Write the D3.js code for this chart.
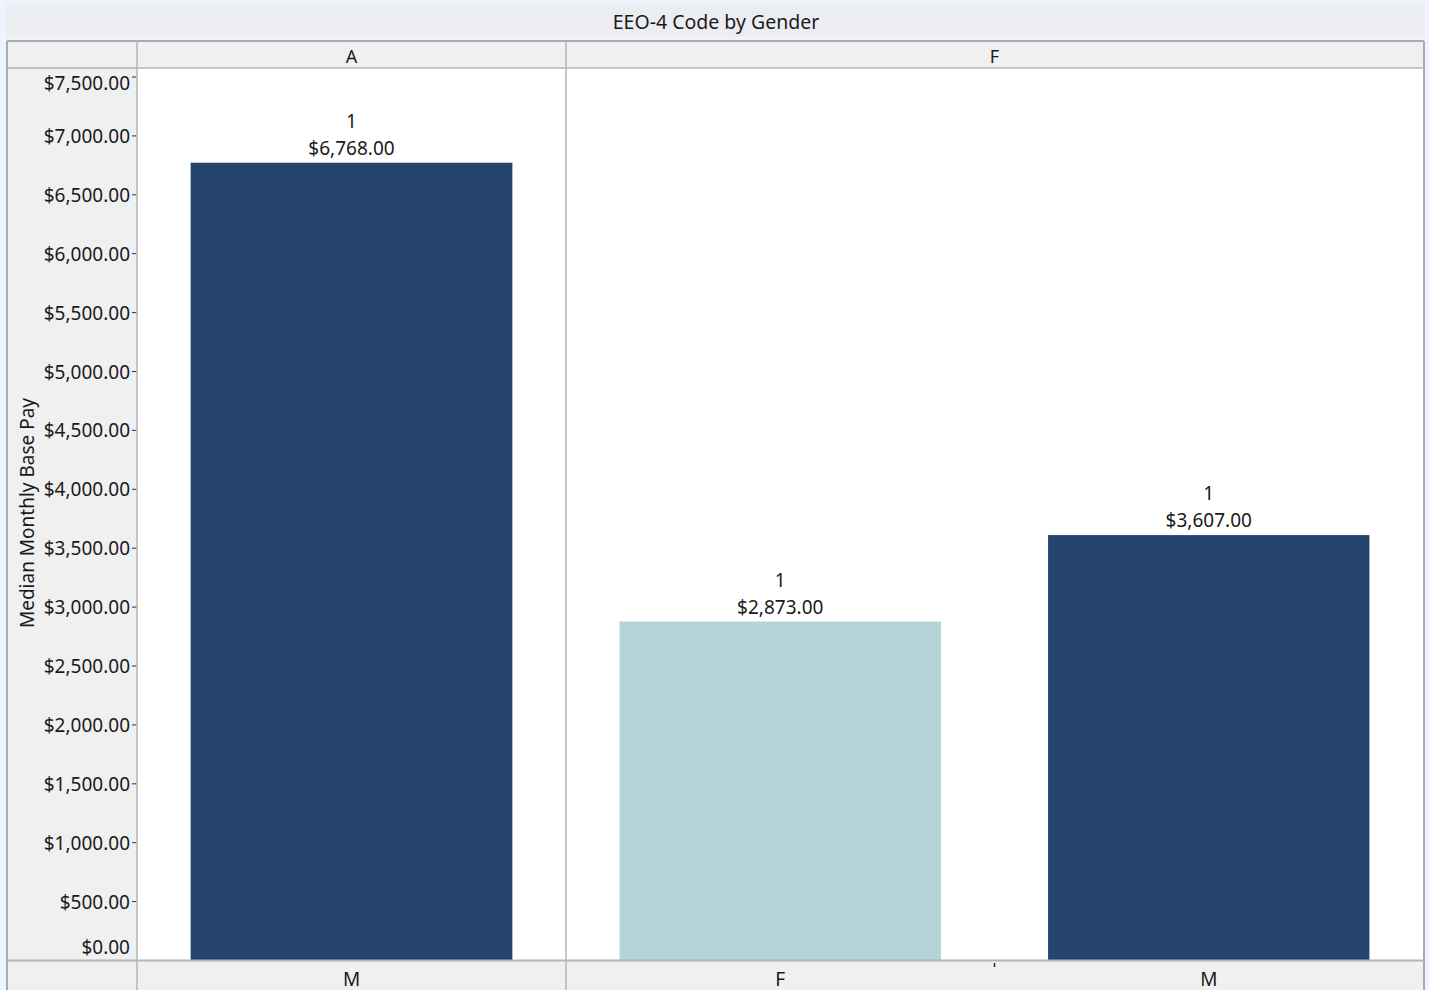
<!DOCTYPE html>
<html><head><meta charset="utf-8">
<script src="https://cdn.jsdelivr.net/npm/d3@7"></script>
<style>
html,body{margin:0;padding:0;background:#EDF4FD;}
svg{display:block;}
text{font-family:"Noto Sans","Open Sans",sans-serif;fill:#1a1a1a;}
</style></head>
<body>
<svg id="c" width="1429" height="990"></svg>
<script>
const title = "EEO-4 Code by Gender";
const yLabel = "Median Monthly Base Pay";
const panels = ["A", "F"];
const genders = [["M"], ["F", "M"]];
const values = [[6768], [2873, 3607]];
const counts = [[1], [1, 1]];
const yTicks = [0,500,1000,1500,2000,2500,3000,3500,4000,4500,5000,5500,6000,6500,7000,7500];
const genderColor = {M: "#26456E", F: "#B5D4D9"};

const svg = d3.select("#c");
const W = 1429, H = 990;
const gridL = 7, gridR = 1424, gridT = 41, headB = 68, plotB = 960, axisL = 137;
const panelEdges = [137, 566, 1423];
const fmt = v => "$" + d3.format(",.2f")(v);

// title band
svg.append("rect").attr("x",6).attr("y",4).attr("width",1419).attr("height",33).attr("fill","#ECEDF1");
svg.append("text").attr("x",716).attr("y",21).attr("text-anchor","middle").attr("dominant-baseline","central")
  .style("font-size","19.5px").text(title);

// grid backgrounds
svg.append("rect").attr("x",gridL).attr("y",gridT).attr("width",gridR-gridL).attr("height",H-gridT).attr("fill","#F0F0F0");
svg.append("rect").attr("x",axisL).attr("y",headB).attr("width",panelEdges[2]-axisL).attr("height",plotB-headB).attr("fill","#FFFFFF");

const y = d3.scaleLinear().domain([0,7500]).range([plotB, 76.5]);

// panels
panels.forEach((p,i) => {
  const x0 = panelEdges[i], x1 = panelEdges[i+1];
  const x = d3.scaleBand().domain(genders[i]).range([x0, x1]).paddingInner(0.25).paddingOuter(0.125);
  const g = svg.append("g");
  genders[i].forEach((gn,j) => {
    const v = values[i][j];
    g.append("rect").attr("x", x(gn)).attr("width", x.bandwidth())
      .attr("y", y(v)).attr("height", y(0)-y(v)).attr("fill", genderColor[gn]);
    const cx = x(gn) + x.bandwidth()/2;
    g.append("text").attr("x",cx).attr("y",y(v)-42).attr("text-anchor","middle").attr("dominant-baseline","central")
      .style("font-size","19px").text(counts[i][j]);
    g.append("text").attr("x",cx).attr("y",y(v)-15).attr("text-anchor","middle").attr("dominant-baseline","central")
      .style("font-size","19px").text(fmt(v));
    g.append("text").attr("x",cx).attr("y",979).attr("text-anchor","middle").attr("dominant-baseline","central")
      .style("font-size","19px").text(gn);
  });
  svg.append("text").attr("x",(x0+x1)/2).attr("y",56).attr("text-anchor","middle").attr("dominant-baseline","central")
    .style("font-size","18px").text(p);
});

// y axis
const yAxis = d3.axisLeft(y).tickValues(yTicks).tickFormat(fmt).tickSize(5).tickPadding(2);
const ga = svg.append("g").attr("transform",`translate(${axisL},0)`).call(yAxis);
ga.select(".domain").remove();
ga.selectAll(".tick line").attr("stroke","#333");
ga.selectAll(".tick text").style("font-size","19px").style("font-family","'Noto Sans','Open Sans',sans-serif").attr("fill","#1a1a1a").attr("y",1);
ga.selectAll(".tick").filter(d => d===0).select("line").remove();
ga.selectAll(".tick").filter(d => d===0).select("text").attr("y",-17).attr("dy","0.55em");
ga.selectAll(".tick").filter(d => d===7500).select("text").attr("y",7);
ga.selectAll(".tick").filter(d => d===7500).select("line").attr("y2",0);

svg.append("text").attr("transform","translate(27,513) rotate(-90)").attr("text-anchor","middle").attr("dominant-baseline","central")
  .style("font-size","19px").text(yLabel);

// lines
const line = (x1,y1,x2,y2,c="#B4B4B4",w=1.5) => svg.append("line").attr("x1",x1).attr("y1",y1).attr("x2",x2).attr("y2",y2).attr("stroke",c).attr("stroke-width",w);
line(gridL, gridT, gridR, gridT, "#ABABAB", 2);
line(gridL, gridT, gridL, H, "#ABABAB", 2);
line(gridR, gridT, gridR, H, "#ABABAB", 2);
line(gridL, headB, gridR, headB, "#B4B4B4", 1.5);
line(gridL, plotB+0.5, gridR, plotB+0.5, "#B4B4B4", 2);
line(axisL, gridT, axisL, H, "#B4B4B4", 1.5);
line(566, gridT, 566, H, "#B4B4B4", 1.5);
line(994.5, 963, 994.5, 967, "#222", 1.5);
</script>
</body></html>
